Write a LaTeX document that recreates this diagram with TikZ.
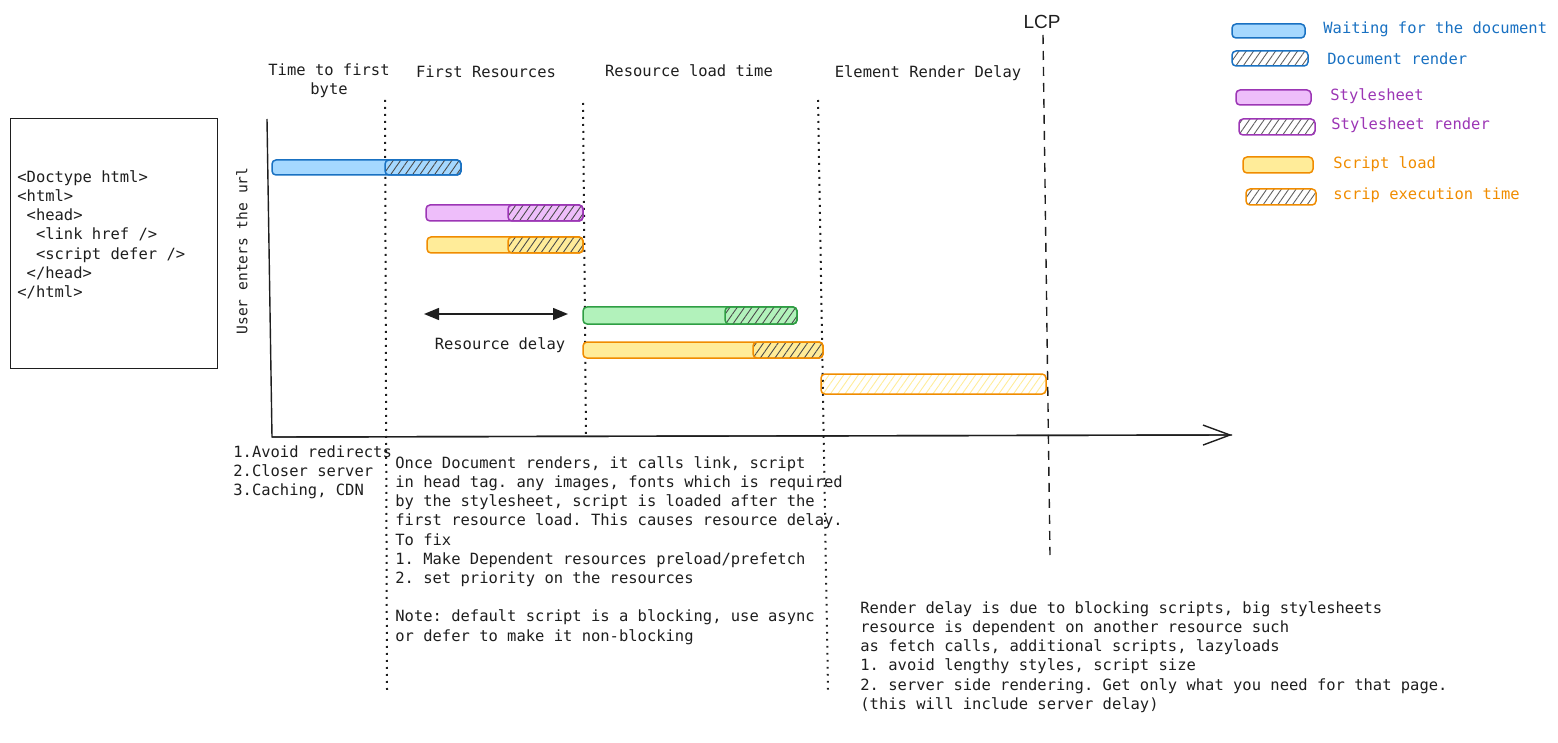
\documentclass[tikz,border=0pt]{standalone}
\usepackage{fontspec}
\usepackage{tikz}
\usetikzlibrary{arrows.meta,positioning,patterns.meta}
\newfontfamily\codefont{DejaVu Sans Mono}
\newfontfamily\labelfont{Liberation Sans}
\definecolor{docline}{HTML}{1971C2}
\definecolor{docfill}{HTML}{A5D8FF}
\definecolor{cssline}{HTML}{9C36B5}
\definecolor{cssfill}{HTML}{EEBEFA}
\definecolor{jsline}{HTML}{F08C00}
\definecolor{jsfill}{HTML}{FFEC99}
\definecolor{imgline}{HTML}{2F9E44}
\definecolor{imgfill}{HTML}{B2F2BB}
\definecolor{ink}{HTML}{1E1E1E}
\frenchspacing

\begin{document}
\begin{tikzpicture}[x=0.5pt,y=-0.5pt,
  mono/.style={font=\codefont\fontsize{7.74pt}{9.6pt}\selectfont,text=ink,inner sep=0pt},
  note/.style={mono,align=left,anchor=north west},
  legend/.style={mono,anchor=west},
  bar/.style={rounded corners=2pt,line width=0.75pt},
  hatch/.style={bar,pattern={Lines[angle=55,distance=3pt,line width=0.45pt]},pattern color=#1},
  marker/.style={ink,line width=1pt,dash pattern=on 0.9pt off 2.6pt},
  axis/.style={ink,line width=0.7pt},
  delay/.style={{Triangle[length=7.5pt,width=6pt]}-{Triangle[length=7.5pt,width=6pt]},ink,line width=0.7pt}
]
\useasboundingbox (0,0) rectangle (1558,743);

\node[draw=ink,line width=0.7pt,minimum width=103.5pt,minimum height=125pt,anchor=north west,inner sep=0pt] (codebox) at (10,118) {};
\node[note] (codetext) at (17,170) {<Doctype html>\\<html>\\\phantom{x}<head>\\\phantom{xx}<link href />\\\phantom{xx}<script defer />\\\phantom{x}</head>\\</html>};
\node[mono,font=\codefont\fontsize{7.3pt}{8pt}\selectfont,rotate=90] (url) at (242,251) {User enters the url};

\node[mono,align=center] (ttfb) at (329,81) {Time to first\\byte};
\node[mono] (firstres) at (486,72) {First Resources};
\node[mono] (resload) at (689,71) {Resource load time};
\node[mono] (renderdelay) at (928,73) {Element Render Delay};
\node[font=\labelfont\fontsize{9.5pt}{11pt}\selectfont,text=ink,inner sep=0pt] (lcp) at (1042,22) {LCP};

\coordinate (ytop) at (267,119);
\coordinate (origin) at (272,437);
\coordinate (xend) at (1232,435);
\draw[axis] (ytop) -- (origin) -- (xend);
\draw[axis,-{Straight Barb[length=13.5pt,width=10pt]}] (origin) -- (xend);

\coordinate (m1top) at (385,100);  \coordinate (m1bot) at (387,690);
\coordinate (m2top) at (583,103);  \coordinate (m2bot) at (586,437);
\coordinate (m3top) at (818,100);  \coordinate (m3bot) at (828,690);
\coordinate (lcptop) at (1043,35); \coordinate (lcpbot) at (1050,555);
\draw[marker] (m1top) -- (m1bot);
\draw[marker] (m2top) -- (m2bot);
\draw[marker] (m3top) -- (m3bot);
\draw[ink,line width=0.7pt,dash pattern=on 4.5pt off 3.5pt] (lcptop) -- (lcpbot);

\draw[bar,draw=docline,fill=docfill] (272,160) rectangle (461,175);
\draw[hatch=ink!80,draw=docline] (385,160) rectangle (461,175);
\draw[bar,draw=cssline,fill=cssfill] (426,205) rectangle (583,221);
\draw[hatch=ink!80,draw=cssline] (508,205) rectangle (583,221);
\draw[bar,draw=jsline,fill=jsfill] (427,237) rectangle (583,253);
\draw[hatch=ink!80,draw=jsline] (508,237) rectangle (583,253);
\draw[bar,draw=imgline,fill=imgfill] (583,307) rectangle (797,324);
\draw[hatch=ink!80,draw=imgline] (725,307) rectangle (797,324);
\draw[bar,draw=jsline,fill=jsfill] (583,342) rectangle (823,358);
\draw[hatch=ink!80,draw=jsline] (753,342) rectangle (823,358);
\draw[hatch=jsfill,draw=jsline] (821,374) rectangle (1046,394);

\coordinate (rdleft) at (424,314);
\coordinate (rdright) at (568,314);
\draw[delay] (rdleft) -- (rdright);
\node[mono] (rdlabel) at (500,345) {Resource delay};

\node[note] (tips) at (233,445) {1.Avoid redirects\\2.Closer server\\3.Caching, CDN};
\node[note] (fixes) at (395,456) {Once Document renders, it calls link, script\\in head tag. any images, fonts which is required\\by the stylesheet, script is loaded after the\\first resource load. This causes resource delay.\\To fix\\1. Make Dependent resources preload/prefetch\\2. set priority on the resources\\[9.6pt]Note: default script is a blocking, use async\\or defer to make it non-blocking};
\node[note] (renderfix) at (860,601) {Render delay is due to blocking scripts, big stylesheets\\resource is dependent on another resource such\\as fetch calls, additional scripts, lazyloads\\1. avoid lengthy styles, script size\\2. server side rendering. Get only what you need for that page.\\(this will include server delay)};

\draw[bar,draw=docline,fill=docfill] (1232,24) rectangle (1305,38);
\node[legend,text=docline] (lgwait) at (1323,29) {Waiting for the document};
\draw[hatch=ink!70,draw=docline] (1232,51) rectangle (1308,66);
\node[legend,text=docline] (lgdoc) at (1327,59) {Document render};
\draw[bar,draw=cssline,fill=cssfill] (1236,90) rectangle (1311,105);
\node[legend,text=cssline] (lgcss) at (1330,96) {Stylesheet};
\draw[hatch=ink!70,draw=cssline] (1239,119) rectangle (1315,135);
\node[legend,text=cssline] (lgcssr) at (1331,125) {Stylesheet render};
\draw[bar,draw=jsline,fill=jsfill] (1243,157) rectangle (1313,173);
\node[legend,text=jsline] (lgjs) at (1333,164) {Script load};
\draw[hatch=ink!70,draw=jsline] (1246,189) rectangle (1316,205);
\node[legend,text=jsline] (lgjsx) at (1333,195) {scrip execution time};
\end{tikzpicture}
\end{document}
